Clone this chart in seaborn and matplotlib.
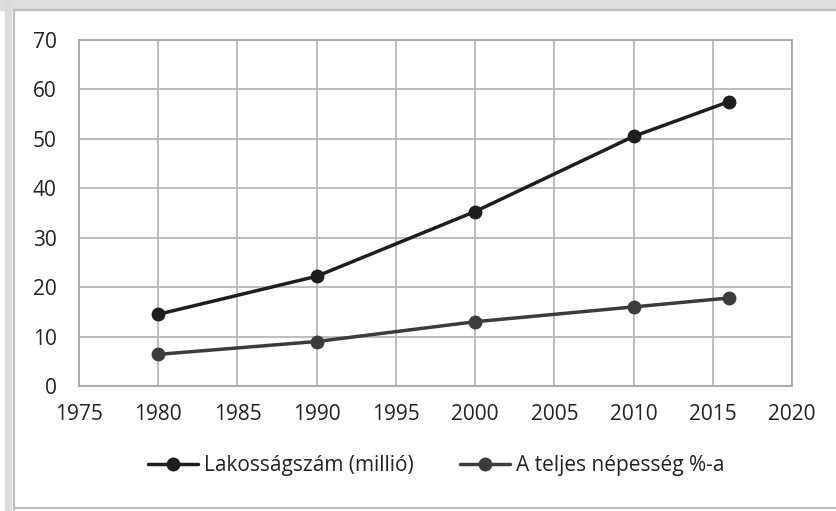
import pandas as pd
import matplotlib.pyplot as plt
import seaborn as sns
from matplotlib.patches import Rectangle
from matplotlib.lines import Line2D

years = [1980, 1990, 2000, 2010, 2016]
lakossag = [14.5, 22.2, 35.3, 50.5, 57.5]
szazalek = [6.4, 9.0, 13.0, 16.0, 17.8]
series_names = ['Lakosságszám (millió)', 'A teljes népesség %-a']
x_ticks = [1975, 1980, 1985, 1990, 1995, 2000, 2005, 2010, 2015, 2020]
y_ticks = [0, 10, 20, 30, 40, 50, 60, 70]

df = pd.DataFrame({
    'Év': years * 2,
    'Érték': lakossag + szazalek,
    'Sorozat': [series_names[0]] * len(years) + [series_names[1]] * len(years),
})

sns.set_style('white')
plt.rcParams['font.family'] = ['Open Sans', 'DejaVu Sans']

fig = plt.figure(figsize=(8.37, 5.11), dpi=100)
W, H = 837, 511

# outer frame like the screenshot
fig.patches.append(Rectangle((0, 1 - 10 / H), 1, 10 / H, transform=fig.transFigure,
                             color='#dedede', zorder=0))
fig.patches.append(Rectangle((5 / W, 0), 6 / W, 1, transform=fig.transFigure,
                             color='#dcdcdc', zorder=0))
fig.add_artist(Line2D([14.5 / W, 14.5 / W], [0, 1 - 10 / H], transform=fig.transFigure,
                      color='#bdbdbd', lw=1.5))
fig.add_artist(Line2D([14.5 / W, 1], [1 - 10.5 / H, 1 - 10.5 / H], transform=fig.transFigure,
                      color='#bdbdbd', lw=1.5))
fig.add_artist(Line2D([14.5 / W, 1], [1 - 508 / H, 1 - 508 / H], transform=fig.transFigure,
                      color='#bdbdbd', lw=1.5))

ax = fig.add_axes([79 / W, 1 - 386 / H, (792 - 79) / W, (386 - 40) / H])

sns.lineplot(data=df, x='Év', y='Érték', hue='Sorozat', palette=['#1e1e1e', '#3c3c3c'],
             marker='o', markersize=10, markeredgewidth=0, linewidth=2.5,
             legend=False, ax=ax, zorder=3)

ax.set_xlim(1975, 2020)
ax.set_ylim(0, 70)
ax.set_xticks(x_ticks)
ax.set_yticks(y_ticks)
ax.grid(True, color='#b3b3b3', linewidth=1.2)
for s in ax.spines.values():
    s.set_color('#a8a8a8')
    s.set_linewidth(1.3)
ax.tick_params(axis='both', length=0, labelsize=15, colors='#222222')
ax.tick_params(axis='y', pad=16)
ax.tick_params(axis='x', pad=13)
ax.set_xlabel('')
ax.set_ylabel('')

ax.legend(ax.lines[:2], series_names, loc='center', bbox_to_anchor=(436 / W, 1 - 466 / H),
          bbox_transform=fig.transFigure, ncol=2, frameon=False, fontsize=15,
          handlelength=2.4, handletextpad=0.3, columnspacing=2.2, labelcolor='#222222')

fig.savefig('out.png', dpi=100)
